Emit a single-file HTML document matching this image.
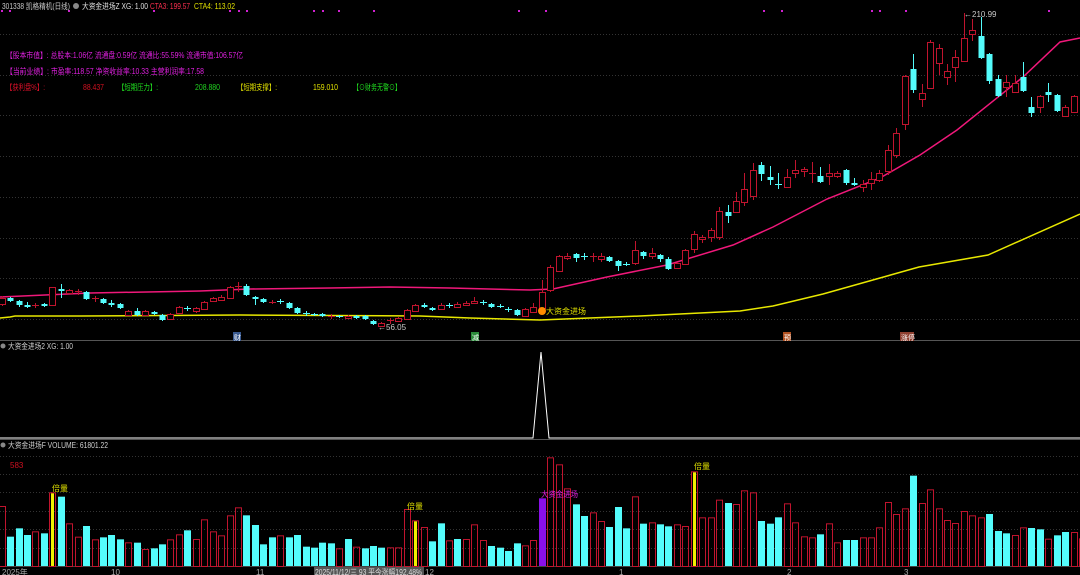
<!DOCTYPE html>
<html><head><meta charset="utf-8">
<style>
html,body{margin:0;padding:0;background:#000;width:1080px;height:575px;overflow:hidden}
svg{display:block}
text{font-family:"Liberation Sans","Noto Sans CJK SC",sans-serif;font-size:8px}
</style></head>
<body>
<svg id="s" width="1080" height="575" xmlns="http://www.w3.org/2000/svg">
<rect width="1080" height="575" fill="#000"/>
<g id="grid" stroke="#333" stroke-dasharray="1,2" stroke-width="1"></g>
<line x1="0" y1="340.5" x2="1080" y2="340.5" stroke="#555"/>
<line x1="0" y1="439.5" x2="1080" y2="439.5" stroke="#555"/>
<line x1="0" y1="566.5" x2="1080" y2="566.5" stroke="#444"/>
<g id="dots" fill="#d020d0"></g>
<polyline fill="none" stroke="#e8e800" stroke-width="1.5" points="0,318 10,317 15,316 80,316 240,315 420,316 470,318 540,320 640,316 740,311 773,306 823,294 880,278 919,267 988,255 1080,214"/>
<polyline fill="none" stroke="#f0187a" stroke-width="1.5" points="0,297 90,293 200,291 250,289 330,288 390,287 450,288 530,290 553,289 607,277 667,265 733,245 773,227 827,199 880,178 920,155 957,130 1023,77 1060,42 1080,38"/>
<g id="candles"></g>
<g id="vols"></g>
<polyline fill="none" stroke="#fff" stroke-width="1" points="0,438 533,438 541,352 549,438 1080,438"/>
<text x="2" y="9" fill="#c8c8c8" textLength="68" lengthAdjust="spacingAndGlyphs">301338 凯格精机(日线)</text>
<circle cx="76" cy="6" r="3" fill="#888"/>
<text x="82" y="9" fill="#e0e0e0" textLength="66" lengthAdjust="spacingAndGlyphs">大资金进场Z XG: 1.00</text>
<text x="150" y="9" fill="#ff3050" textLength="40" lengthAdjust="spacingAndGlyphs">CTA3: 199.57</text>
<text x="194" y="9" fill="#e0e000" textLength="41" lengthAdjust="spacingAndGlyphs">CTA4: 113.02</text>
<text x="6" y="58" fill="#e020e0" textLength="237" lengthAdjust="spacingAndGlyphs">【股本市值】: 总股本:1.06亿 流通盘:0.59亿 流通比:55.59% 流通市值:106.57亿</text>
<text x="6" y="74" fill="#e020e0" textLength="198" lengthAdjust="spacingAndGlyphs">【当前业绩】: 市盈率:118.57 净资收益率:10.33 主营利润率:17.58</text>
<text x="6" y="90" fill="#e0102a" textLength="39" lengthAdjust="spacingAndGlyphs">【获利盘%】:</text>
<text x="83" y="90" fill="#d01020" textLength="21" lengthAdjust="spacingAndGlyphs">88.437</text>
<text x="118" y="90" fill="#20e020" textLength="40" lengthAdjust="spacingAndGlyphs">【短期压力】:</text>
<text x="195" y="90" fill="#20d020" textLength="25" lengthAdjust="spacingAndGlyphs">208.880</text>
<text x="237" y="90" fill="#e0e000" textLength="40" lengthAdjust="spacingAndGlyphs">【短期支撑】:</text>
<text x="313" y="90" fill="#e0e000" textLength="25" lengthAdjust="spacingAndGlyphs">159.010</text>
<text x="353" y="90" fill="#20e020" textLength="48" lengthAdjust="spacingAndGlyphs">【⊙财务无警⊙】</text>
<text x="964" y="17" fill="#c8c8c8">←210.99</text>
<text x="378" y="330" fill="#c8c8c8">←56.05</text>
<circle cx="542" cy="311" r="4" fill="#ff8c00"/>
<text x="546" y="314" fill="#e0e000" textLength="40" lengthAdjust="spacingAndGlyphs">大资金进场</text>
<rect x="233" y="332" width="8" height="9" fill="#3a5a90"/><text x="234" y="340" fill="#fff" style="font-size:7px">财</text>
<rect x="471" y="332" width="8" height="9" fill="#2a8a3a"/><text x="472" y="340" fill="#fff" style="font-size:7px">减</text>
<rect x="783" y="332" width="8" height="9" fill="#b05020"/><text x="784" y="340" fill="#fff" style="font-size:7px">预</text>
<rect x="900" y="332" width="14" height="9" fill="#904030"/><text x="901" y="340" fill="#fff" style="font-size:7px">涨停</text>
<circle cx="3" cy="346" r="2.5" fill="#888"/>
<text x="8" y="349" fill="#d0d0d0" textLength="65" lengthAdjust="spacingAndGlyphs">大资金进场2 XG: 1.00</text>
<circle cx="3" cy="445" r="2.5" fill="#888"/>
<text x="8" y="448" fill="#d0d0d0" textLength="100" lengthAdjust="spacingAndGlyphs">大资金进场F VOLUME: 61801.22</text>
<text x="10" y="468" fill="#d01020">583</text>
<text x="52" y="491" fill="#e0e000">倍量</text>
<text x="407" y="509" fill="#e0e000">倍量</text>
<text x="694" y="469" fill="#e0e000">倍量</text>
<text x="541" y="497" fill="#e020e0" textLength="37" lengthAdjust="spacingAndGlyphs">大资金进场</text>
<text x="2" y="575" fill="#aaa">2025年</text>
<text x="111" y="575" fill="#aaa">10</text>
<text x="256" y="575" fill="#aaa">11</text>
<rect x="314" y="567" width="110" height="8" fill="#555"/>
<text x="315" y="575" fill="#ddd" textLength="107" lengthAdjust="spacingAndGlyphs">2025/11/12/三 93 平今涨幅192.48%</text>
<text x="425" y="575" fill="#aaa">12</text>
<text x="619" y="575" fill="#aaa">1</text>
<text x="787" y="575" fill="#aaa">2</text>
<text x="904" y="575" fill="#aaa">3</text>
</svg>
<script>
var NS="http://www.w3.org/2000/svg";
function el(p,t,a){var e=document.createElementNS(NS,t);for(var k in a)e.setAttribute(k,a[k]);p.appendChild(e);return e;}
var g=document.getElementById('grid');
for(var k=0;k<8;k++){var y=Math.round(34+40.7*k)+.5;el(g,'line',{x1:0,y1:y,x2:1080,y2:y});}
[456,474,492,511,529,548].forEach(function(y){el(g,'line',{x1:0,y1:y+.5,x2:1080,y2:y+.5});});
var d=document.getElementById('dots');
[1,9,68,153,229,238,246,313,322,338,373,518,545,763,781,871,879,905,1048].forEach(function(x){el(d,'rect',{x:x,y:10,width:2,height:2});});
var C=[["r",298,304,296,306],["c",298,301,297,302],["c",301,305,300,307],["c",305,307,302,308],["r",305,306,303,308],["c",304,306,303,307],["r",287,305,287,306],["c",289,291,284,298],["r",290,293,289,294],["r",291,292,289,295],
["c",292,299,291,300],["r",298,299,296,302],["c",299,303,298,304],["c",303,305,300,307],["c",304,308,303,309],["r",311,315,310,316],["c",311,315,308,316],["r",311,315,310,316],["c",312,314,311,315],["c",315,320,314,321],
["r",314,319,313,320],["r",307,313,306,314],["c",308,309,306,311],["r",308,311,307,313],["r",302,309,301,310],["r",298,301,297,302],["r",297,300,295,301],["r",287,298,286,299],["r",286,287,282,292],["c",286,295,284,296],
["c",297,299,296,305],["c",299,302,298,303],["r",302,303,300,304],["c",301,302,299,304],["c",303,308,302,309],["c",308,313,307,314],["c",313,314,311,316],["c",314,315,313,316],["c",314,316,313,317],["r",316,317,314,319],
["c",316,317,315,318],["r",316,318,315,319],["c",316,318,315,319],["c",316,319,315,320],["c",321,324,320,325],["r",323,326,322,327],["r",320,321,318,324],["r",318,321,317,322],["r",310,319,309,320],["r",305,311,304,312],
["c",305,307,303,308],["c",308,310,307,311],["r",305,309,303,310],["c",305,306,303,308],["r",304,307,302,308],["r",303,305,301,306],["r",301,303,297,304],["c",302,303,300,305],["c",304,307,303,308],["c",306,307,304,308],
["c",309,310,307,312],["c",310,315,309,316],["r",309,316,308,317],["r",307,312,303,313],["r",292,308,280,309],["r",267,290,265,292],["r",256,271,255,272],["r",256,258,253,260],["c",254,258,253,262],["c",256,257,253,260],
["r",256,257,253,262],["r",256,259,253,262],["c",257,261,256,262],["c",261,266,260,271],["c",264,265,262,266],["r",250,263,241,265],["c",252,256,251,259],["r",253,256,248,259],["c",255,259,254,262],["c",259,269,257,270],
["r",263,268,262,269],["r",250,264,249,265],["r",234,249,231,253],["r",237,239,235,243],["r",230,237,228,242],["r",211,237,207,240],["c",212,216,205,223],["r",201,212,192,213],["r",189,202,173,206],["r",170,196,163,200],
["c",165,174,162,181],["c",177,180,166,185],["c",184,185,173,189],["r",177,187,169,188],["r",170,173,160,178],["r",169,171,167,177],["r",173,174,162,183],["c",176,182,167,183],["r",173,176,164,185],["r",173,176,171,178],
["c",170,183,169,185],["c",183,185,178,186],["r",184,187,180,192],["r",179,183,172,190],["r",173,180,170,182],["r",150,171,145,175],["r",133,155,128,158],["r",76,124,75,130],["c",69,90,54,93],["r",93,99,84,107],
["r",42,88,40,89],["r",48,63,44,75],["r",71,77,64,85],["r",57,67,50,82],["r",38,61,13,62],["r",30,34,19,41],["c",36,58,17,59],["c",54,81,53,84],["c",79,96,75,97],["r",82,87,75,97],
["r",83,92,75,93],["c",77,91,62,92],["c",107,113,97,117],["r",96,107,95,113],["c",92,95,83,102],["c",95,111,94,112],["r",107,116,105,117],["r",96,112,95,113]];
var RED="#c0142e",CY="#54fcfc";
var cg=document.getElementById('candles');
C.forEach(function(c,i){var x=Math.round(1.7+8.44*i);var col=c[0]=="r"?RED:CY;
 el(cg,'line',{x1:x+.5,y1:c[3],x2:x+.5,y2:c[4],stroke:col});
 var h=c[2]-c[1];
 if(h<=1){el(cg,'line',{x1:x-3,y1:c[1]+.5,x2:x+4,y2:c[1]+.5,stroke:col});}
 else if(c[0]=="r"){el(cg,'rect',{x:x-2.5,y:c[1]+.5,width:6,height:h,fill:"#000",stroke:col});}
 else{el(cg,'rect',{x:x-2.5,y:c[1],width:6,height:h,fill:col});}
});
var V=[198,290,265,285,274,280,157,170,250,290,258,298,292,285,298,307,308,327,325,313,298,283,271,297,238,274,286,226,202,226,255,313,292,286,292,285,320,323,308,310,325,297,320,325,318,323,322,322,207,241,261,304,250,301,297,297,253,300,318,323,333,310,316,300,175,52,73,
145,193,228,217,243,261,201,265,169,251,247,253,259,253,258,94,232,232,179,189,192,151,157,243,251,232,190,247,289,292,283,250,307,300,300,292,292,262,186,222,205,107,189,148,205,240,249,213,226,232,222,273,280,285,262,264,268,296,286,276,276,295];
var VC="rcccrcYcrrcrcccrcrccrrcrrrrrrccccrccccccrcrcccrrrYrccrcrrrccccrrPrr"+"rccrrcccrcrccrrYrrrcrrrcccrrrrcrrccrrrrrrcrrrrrrrrcccrrccrccrrrr";
var vg=document.getElementById('vols');
V.forEach(function(v,i){var x=Math.round(1.7+8.44*i);var top=440+v/3;var h=566-top;var t=VC[i];
 if(t=="c")el(vg,'rect',{x:x-3,y:top,width:7,height:h,fill:CY});
 else if(t=="r")el(vg,'rect',{x:x-2.5,y:top+.5,width:6,height:h,fill:"none",stroke:RED});
 else if(t=="Y"){el(vg,'rect',{x:x-2.5,y:top+.5,width:6,height:h,fill:"none",stroke:RED});el(vg,'rect',{x:x-1,y:top+1,width:3,height:h-1,fill:"#f0f000"});}
 else el(vg,'rect',{x:x-3,y:top,width:7,height:h,fill:"#8a10e8"});
});
</script>
</body></html>
